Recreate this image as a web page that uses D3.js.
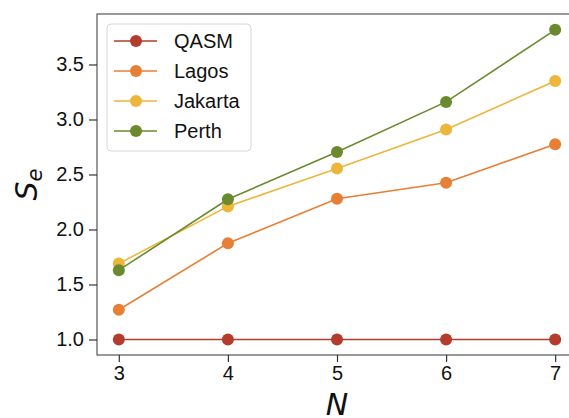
<!DOCTYPE html>
<html>
<head>
<meta charset="utf-8">
<script src="https://cdn.jsdelivr.net/npm/d3@7/dist/d3.min.js"></script>
<style>
  body { margin: 0; background: #fff; }
  svg { display: block; font-family: "Liberation Sans", Arial, sans-serif; }
</style>
</head>
<body>
<svg id="chart" width="569" height="418"></svg>
<script>
var nValues = [3, 4, 5, 6, 7];
var seriesNames = ["QASM", "Lagos", "Jakarta", "Perth"];
var qasm = [1.0, 1.0, 1.0, 1.0, 1.0];
var lagos = [1.27, 1.875, 2.28, 2.425, 2.775];
var jakarta = [1.69, 2.21, 2.555, 2.91, 3.35];
var perth = [1.63, 2.275, 2.705, 3.16, 3.815];
var yTicks = [1.0, 1.5, 2.0, 2.5, 3.0, 3.5];

var colors = ["#b33c2d", "#e77f35", "#ebb63a", "#6a8a2d"];
var allSeries = [qasm, lagos, jakarta, perth];

var svg = d3.select("#chart"),
  LEFT = 97, RIGHT = 577, TOP = 14, BOTTOM = 355;

var x = d3.scaleLinear().domain([2.8, 7.2]).range([LEFT, RIGHT]);
var y = d3.scaleLinear().domain([0.859, 3.959]).range([BOTTOM, TOP]);

// frame
svg.append("rect")
  .attr("x", LEFT).attr("y", TOP)
  .attr("width", RIGHT - LEFT).attr("height", BOTTOM - TOP)
  .attr("fill", "none").attr("stroke", "#555").attr("stroke-width", 1.2);

var xAxis = d3.axisBottom(x).tickValues(nValues).tickFormat(d3.format("d"))
  .tickSize(7).tickPadding(4);
var gx = svg.append("g").attr("transform", "translate(0," + BOTTOM + ")").call(xAxis);

var yAxis = d3.axisLeft(y).tickValues(yTicks).tickFormat(d3.format(".1f"))
  .tickSize(8).tickPadding(5);
var gy = svg.append("g").attr("transform", "translate(" + LEFT + ",0)").call(yAxis);

[gx, gy].forEach(function(g) {
  g.select(".domain").remove();
  g.selectAll(".tick line").attr("stroke", "#333").attr("stroke-width", 1.2);
  g.selectAll(".tick text").attr("fill", "#111")
    .style("font-family", "'Liberation Sans', Arial, sans-serif")
    .style("font-size", "20px");
});

var line = d3.line()
  .x(function(d, i) { return x(nValues[i]); })
  .y(function(d) { return y(d); });

allSeries.forEach(function(vals, k) {
  svg.append("path")
    .attr("d", line(vals))
    .attr("fill", "none")
    .attr("stroke", colors[k])
    .attr("stroke-width", 1.6);
  svg.selectAll(null).data(vals).enter().append("circle")
    .attr("cx", function(d, i) { return x(nValues[i]); })
    .attr("cy", function(d) { return y(d); })
    .attr("r", 6)
    .attr("fill", colors[k]);
});

// legend
var lg = svg.append("g");
lg.append("rect")
  .attr("x", 107).attr("y", 24).attr("width", 144).attr("height", 127)
  .attr("rx", 4).attr("fill", "#fff").attr("fill-opacity", 0.85)
  .attr("stroke", "#d6d6d6").attr("stroke-width", 1);
seriesNames.forEach(function(name, k) {
  var ly = 41 + k * 30;
  lg.append("line").attr("x1", 114).attr("x2", 157).attr("y1", ly).attr("y2", ly)
    .attr("stroke", colors[k]).attr("stroke-width", 1.6);
  lg.append("circle").attr("cx", 136).attr("cy", ly).attr("r", 6).attr("fill", colors[k]);
  lg.append("text").attr("x", 174).attr("y", ly + 7)
    .attr("font-size", 20).attr("fill", "#111").text(name);
});

// axis labels
svg.append("text")
  .attr("transform", "translate(37," + ((TOP + BOTTOM) / 2) + ") rotate(-90)")
  .attr("text-anchor", "middle")
  .style("font-family", "'DejaVu Sans', sans-serif")
  .style("font-style", "italic")
  .attr("font-size", 30)
  .attr("fill", "#111")
  .html('S<tspan font-size="21" dy="5">e</tspan>');

svg.append("text")
  .attr("x", (LEFT + RIGHT) / 2).attr("y", 415)
  .attr("text-anchor", "middle")
  .style("font-family", "'DejaVu Sans', sans-serif")
  .style("font-style", "italic")
  .attr("font-size", 30)
  .attr("fill", "#111")
  .text("N");
</script>
</body>
</html>
